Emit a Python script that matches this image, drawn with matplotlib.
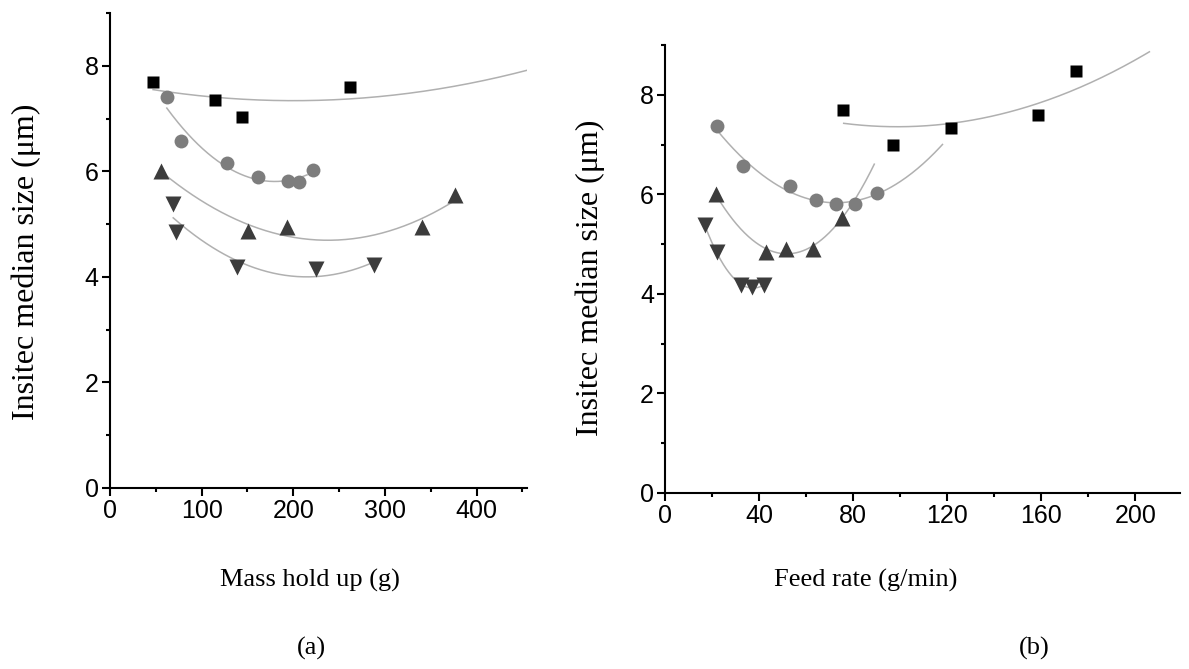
import numpy as np
import matplotlib
matplotlib.use("Agg")
import matplotlib.pyplot as plt
from matplotlib.ticker import MultipleLocator

# (a) median size vs mass hold up
a_sq_x = [47, 115, 144, 262]
a_sq_y = [7.69, 7.35, 7.02, 7.60]
a_ci_x = [62, 77, 128, 162, 194, 206, 222]
a_ci_y = [7.40, 6.58, 6.15, 5.90, 5.82, 5.80, 6.02]
a_up_x = [56, 151, 193, 340, 376]
a_up_y = [6.00, 4.86, 4.95, 4.94, 5.55]
a_dn_x = [69, 72, 139, 225, 288]
a_dn_y = [5.38, 4.85, 4.18, 4.15, 4.22]
# fitted trend for the squares
a_sq_curve_x = [47, 115, 200, 300, 402, 453]
a_sq_curve_y = [7.54, 7.42, 7.33, 7.42, 7.71, 7.90]
a_fit_range = {"sq": (47, 455), "ci": (62, 215), "up": (58, 375), "dn": (69, 288)}

# (b) median size vs feed rate
b_sq_x = [75.5, 97.0, 121.6, 158.6, 174.8]
b_sq_y = [7.70, 6.99, 7.34, 7.60, 8.47]
b_ci_x = [22, 33.3, 53.1, 64.2, 72.7, 80.7, 90.1]
b_ci_y = [7.37, 6.56, 6.16, 5.89, 5.81, 5.81, 6.03]
b_up_x = [21.6, 42.8, 51.4, 62.8, 75.1]
b_up_y = [6.00, 4.84, 4.91, 4.91, 5.52]
b_dn_x = [16.9, 21.9, 32.5, 37.2, 42.0]
b_dn_y = [5.38, 4.84, 4.17, 4.14, 4.17]
b_sq_curve_x = [76, 99, 121.5, 158.6, 174.8, 206]
b_sq_curve_y = [7.43, 7.36, 7.41, 7.81, 8.15, 8.85]
b_fit_range = {"sq": (76, 206), "ci": (22, 118), "up": (22, 89), "dn": (17, 42)}

styles = {
    "sq": dict(marker="s", color="black", ms=9),
    "ci": dict(marker="o", color="#7d7d7d", ms=10),
    "up": dict(marker="^", color="#3c3c3c", ms=11),
    "dn": dict(marker="v", color="#3c3c3c", ms=11),
}

serif = ["Liberation Serif", "DejaVu Serif"]
plt.rcParams["font.family"] = ["Liberation Sans", "DejaVu Sans"]

fig = plt.figure(figsize=(11.89, 6.69), dpi=100)
ax1 = fig.add_axes([0.0925, 0.2706, 0.3507, 0.710])
ax2 = fig.add_axes([0.5593, 0.2631, 0.4331, 0.6697])


def draw(ax, series, ranges, curves):
    for key, (x, y) in series.items():
        cx, cy = curves.get(key, (x, y))
        c = np.polyfit(cx, cy, 2)
        xs = np.linspace(*ranges[key], 200)
        ax.plot(xs, np.polyval(c, xs), color="#b0b0b0", lw=1.1, zorder=1)
        st = styles[key]
        ax.plot(x, y, ls="none", marker=st["marker"], color=st["color"],
                ms=st["ms"], mec="none", zorder=2)


draw(ax1, {"sq": (a_sq_x, a_sq_y), "ci": (a_ci_x, a_ci_y),
           "up": (a_up_x, a_up_y), "dn": (a_dn_x, a_dn_y)}, a_fit_range,
     {"sq": (a_sq_curve_x, a_sq_curve_y)})
draw(ax2, {"sq": (b_sq_x, b_sq_y), "ci": (b_ci_x, b_ci_y),
           "up": (b_up_x, b_up_y), "dn": (b_dn_x, b_dn_y)}, b_fit_range,
     {"sq": (b_sq_curve_x, b_sq_curve_y)})

ax1.set_xlim(0, 455)
ax1.xaxis.set_major_locator(MultipleLocator(100))
ax1.xaxis.set_minor_locator(MultipleLocator(50))
ax2.set_xlim(0, 219)
ax2.xaxis.set_major_locator(MultipleLocator(40))
ax2.xaxis.set_minor_locator(MultipleLocator(20))

for ax in (ax1, ax2):
    ax.set_ylim(0, 9)
    ax.yaxis.set_major_locator(MultipleLocator(2))
    ax.yaxis.set_minor_locator(MultipleLocator(1))
    ax.spines["top"].set_visible(False)
    ax.spines["right"].set_visible(False)
    ax.spines["left"].set_linewidth(1.5)
    ax.spines["bottom"].set_linewidth(1.5)
    ax.tick_params(which="major", length=6, width=1.5, labelsize=18, pad=2)
    ax.tick_params(which="minor", length=3, width=1.5)
    ax.set_ylabel("Insitec median size (μm)", family=serif, fontsize=23)

ax1.yaxis.set_label_coords(-0.165, 0.476)
ax2.yaxis.set_label_coords(-0.117, 0.48)
ax1.set_xlabel("Mass hold up (g)", family=serif, fontsize=19)
ax2.set_xlabel("Feed rate (g/min)", family=serif, fontsize=19)
ax1.xaxis.set_label_coords(0.48, -0.17)
ax2.xaxis.set_label_coords(0.39, -0.17)

fig.text(0.262, 0.031, "(a)", family=serif, fontsize=19, ha="center", va="center")
fig.text(0.870, 0.031, "(b)", family=serif, fontsize=19, ha="center", va="center")

fig.savefig("out.png", dpi=100)
